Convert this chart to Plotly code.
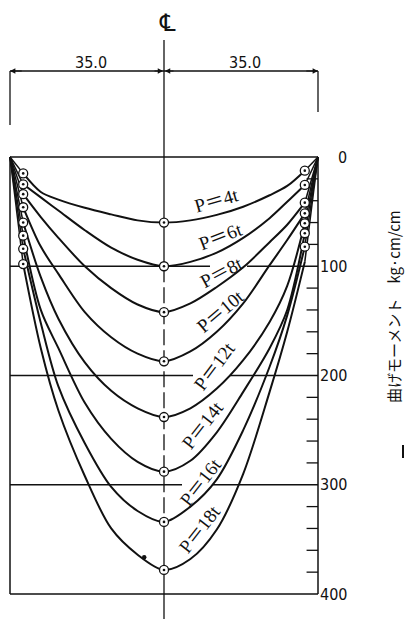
import plotly.graph_objects as go

# ---------------- data ----------------
X_POS = [-35, -32, -28, -24, -18, -12, -6, 0, 6, 12, 18, 24, 28, 32, 35]
LOADS = ["P＝4t", "P＝6t", "P＝8t", "P＝10t", "P＝12t", "P＝14t", "P＝16t", "P＝18t"]
M_P4 = [0, 15, 32, 39, 46.5, 52.5, 58, 60, 58, 53, 45.5, 35, 26.5, 12.5, 0]
M_P6 = [0, 25, 37, 49, 67, 83, 94, 100, 96, 87.5, 74, 56, 41, 25.6, 0]
M_P8 = [0, 34, 55, 74, 100, 120, 135, 142, 134, 119, 101, 78, 62, 41.8, 0]
M_P10 = [0, 46, 82, 107, 142, 165, 180, 187, 178, 160, 134, 99, 76, 51.6, 0]
M_P12 = [0, 60, 110, 148, 188, 214, 230, 238, 230, 212, 186, 151, 118, 60.7, 0]
M_P14 = [0, 72, 140, 175, 225, 258, 279, 288, 278, 252, 215, 175, 140, 69.8, 0]
M_P16 = [0, 84, 152, 210, 262, 302, 324, 334, 320, 295, 250, 192, 145, 82.1, 0]
M_P18 = [0, 98, 175, 232, 292, 340, 364, 378, 368, 341, 290, 215, 160, 96, 0]
CURVES = [M_P4, M_P6, M_P8, M_P10, M_P12, M_P14, M_P16, M_P18]
RIGHT_MARKED = [True, True, True, True, True, True, True, False]
Y_TICKS = [0, 100, 200, 300, 400]
Y_TICK_LABELS = ["0", "100", "200", "300", "400"]
MINOR_TICKS = [20, 40, 60, 80, 120, 140, 160, 180, 220, 240, 260, 280, 320, 340, 360, 380]
HALF_SPAN = 35.0
SPAN_LABELS = ["35.0", "35.0"]
SPOT_X = [-4.5]
SPOT_Y = [366.4]
Y_TITLE = "曲げモーメント　kg·cm/cm"

# ---------------- layout helpers ----------------
def px_x(p):
    return (p - 164) / 4.4

def px_y(p):
    return (p - 157) / 1.0925

BLACK = "#111111"
fig = go.Figure()

# curves
for ys, marked in zip(CURVES, RIGHT_MARKED):
    fig.add_trace(go.Scatter(x=X_POS[1:-1], y=ys[1:-1], mode="lines",
                             line=dict(color=BLACK, width=2.0, shape="spline", smoothing=0.9),
                             hoverinfo="skip", showlegend=False))
    fig.add_trace(go.Scatter(x=[X_POS[0], X_POS[1], None, X_POS[-2], X_POS[-1]],
                             y=[ys[0], ys[1], None, ys[-2], ys[-1]], mode="lines",
                             line=dict(color=BLACK, width=1.5),
                             hoverinfo="skip", showlegend=False))

# markers (open circles with centre dot)
mx, my = [], []
for ys, marked in zip(CURVES, RIGHT_MARKED):
    mx += [X_POS[1], X_POS[7]]
    my += [ys[1], ys[7]]
    if marked:
        mx.append(X_POS[13])
        my.append(ys[13])
fig.add_trace(go.Scatter(x=mx, y=my, mode="markers",
                         marker=dict(symbol="circle", size=9, color="white",
                                     line=dict(color=BLACK, width=1.3)),
                         hoverinfo="skip", showlegend=False))
fig.add_trace(go.Scatter(x=mx, y=my, mode="markers",
                         marker=dict(symbol="circle", size=2.6, color=BLACK),
                         hoverinfo="skip", showlegend=False))
fig.add_trace(go.Scatter(x=SPOT_X, y=SPOT_Y, mode="markers",
                         marker=dict(symbol="circle", size=4.5, color=BLACK),
                         hoverinfo="skip", showlegend=False))

shapes = []
def seg(x0, y0, x1, y1, w=1.5, dash="solid"):
    shapes.append(dict(type="line", xref="x", yref="y", x0=x0, y0=y0, x1=x1, y1=y1,
                       line=dict(color=BLACK, width=w, dash=dash), layer="below"))

L, R = -HALF_SPAN, HALF_SPAN
TOP, BOT = Y_TICKS[0], Y_TICKS[-1]
# frame
seg(L, TOP, R, TOP)
seg(L, TOP, L, BOT)
seg(L, BOT, R, BOT)
seg(R, TOP, R, BOT)
# grid lines with gaps where the labels cross
gaps = {100: (px_x(210), px_x(247)), 200: (px_x(193), px_x(230)), 300: (px_x(182), px_x(213))}
for v in Y_TICKS[1:-1]:
    g0, g1 = gaps[v]
    seg(L, v, g0, v)
    seg(g1, v, R, v)
# minor ticks on right edge
for v in MINOR_TICKS:
    seg(R - 2.6, v, R, v, w=1.3)
# centre line
ytop_c = px_y(40)
ybot_c = px_y(619)
seg(0, ytop_c, 0, 100, w=1.3)
seg(0, 100, 0, 335, w=1.3, dash="16px,5px")
seg(0, 335, 0, ybot_c, w=1.3)
# dimension line
ydim = px_y(71)
seg(L, ydim, R, ydim, w=1.3)
seg(L, ydim, L, px_y(125), w=1.3)
seg(R, ydim, R, px_y(112), w=1.3)
# axis arrow stub at right edge
seg(px_x(403), px_y(445), px_x(403), px_y(458), w=2)

annotations = []
def arrow(x, y, ax, ay):
    annotations.append(dict(x=x, y=y, ax=ax, ay=ay, xref="x", yref="y", axref="x", ayref="y",
                            text="", showarrow=True, arrowhead=2, arrowsize=0.9,
                            arrowwidth=1.2, arrowcolor=BLACK))
arrow(L, ydim, L + 3, ydim)
arrow(R, ydim, R - 3, ydim)
arrow(-0.2, ydim, -2.5, ydim)
arrow(0.2, ydim, 2.5, ydim)

NUMFONT = dict(family="Liberation Sans Narrow, DejaVu Sans Condensed, Liberation Sans, sans-serif",
               size=16, color=BLACK)
annotations.append(dict(x=px_x(91), y=px_y(62), xref="x", yref="y", text=SPAN_LABELS[0],
                        showarrow=False, font=NUMFONT))
annotations.append(dict(x=px_x(245), y=px_y(62), xref="x", yref="y", text=SPAN_LABELS[1],
                        showarrow=False, font=NUMFONT))
annotations.append(dict(x=px_x(167), y=px_y(23), xref="x", yref="y", text="℄",
                        showarrow=False,
                        font=dict(family="DejaVu Serif, DejaVu Sans, serif", size=24, color=BLACK)))
for v, t in zip(Y_TICKS, Y_TICK_LABELS):
    annotations.append(dict(x=px_x(349), y=v, xref="x", yref="y", text=t, xanchor="right",
                            showarrow=False, font=NUMFONT))
annotations.append(dict(x=px_x(393), y=px_y(307), xref="x", yref="y", text=Y_TITLE,
                        textangle=-90, showarrow=False, borderpad=0,
                        font=dict(family="Noto Sans CJK JP, sans-serif", size=15, color=BLACK)))

label_pos = [(216, 200, -16), (220, 236, -21), (221, 272, -28), (220, 311, -40),
             (214, 366, -53), (202, 425, -52), (200, 482, -52), (199, 529, -52)]
for t, (lx, ly, ang) in zip(LOADS, label_pos):
    annotations.append(dict(x=px_x(lx), y=px_y(ly), xref="x", yref="y", text=t,
                            textangle=ang, showarrow=False,
                            font=dict(family="Liberation Serif, Noto Sans CJK JP, serif",
                                      size=19, color=BLACK)))

fig.update_layout(
    width=406, height=619, autosize=False,
    margin=dict(l=0, r=0, t=0, b=0, pad=0),
    paper_bgcolor="white", plot_bgcolor="white",
    xaxis=dict(range=[px_x(0), px_x(406)], visible=False, fixedrange=True),
    yaxis=dict(range=[px_y(619), px_y(0)], visible=False, fixedrange=True),
    shapes=shapes, annotations=annotations, showlegend=False,
)
fig.write_html("out.html")
